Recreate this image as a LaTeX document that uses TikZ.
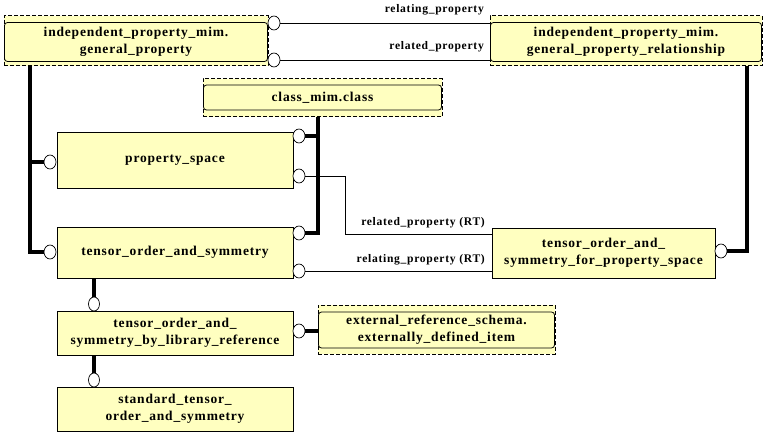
\documentclass[tikz,border=0pt]{standalone}
\usepackage{fontspec}
\setmainfont[LetterSpace=6]{Liberation Serif}
\usetikzlibrary{shapes.geometric,calc}
\definecolor{boxyellow}{RGB}{255,255,192}
\newcommand\boxfnt{\fontsize{13.5}{17}\selectfont\bfseries}
\newcommand\lblfnt{\fontsize{11.6}{13}\selectfont\bfseries}
\begin{document}
\begin{tikzpicture}[x=1pt,y=-1pt,
  entbox/.style={draw, fill=boxyellow, line width=0.8pt, inner sep=0pt, outer sep=0pt, align=center, font=\boxfnt},
  outerbox/.style={draw, fill=boxyellow, line width=0.8pt, dash pattern=on 4pt off 2pt, inner sep=0pt, outer sep=0pt},
  innerbox/.style={entbox, rounded corners=3pt},
  ring/.style={draw, fill=white, ellipse, line width=0.7pt, minimum width=12pt, minimum height=14pt, inner sep=0pt, outer sep=0pt},
  heavy/.style={line width=3.6pt},
  link/.style={line width=0.8pt},
  lbl/.style={font=\lblfnt, inner sep=0pt, anchor=east}]
\useasboundingbox (0,0) rectangle (766,439);
% mapped boxes
\node[outerbox, minimum width=264pt, minimum height=50pt] (gp) at (136,40.7) {};
\node[innerbox, minimum width=263pt, minimum height=39pt] (gpi) at (136,42) {independent\_property\_mim.\\general\_property};
\node[outerbox, minimum width=272pt, minimum height=50pt] (gpr) at (626,40.7) {};
\node[innerbox, minimum width=271pt, minimum height=39pt] (gpri) at (626,42) {independent\_property\_mim.\\general\_property\_relationship};
\node[outerbox, minimum width=239pt, minimum height=38pt] (cls) at (322.5,97.5) {};
\node[innerbox, minimum width=238pt, minimum height=25pt] (clsi) at (322.5,97.5) {class\_mim.class};
\node[outerbox, minimum width=237pt, minimum height=49pt] (ext) at (436.5,329.5) {};
\node[innerbox, minimum width=236pt, minimum height=36pt] (exti) at (436.5,330) {external\_reference\_schema.\\externally\_defined\_item};
% entities
\node[entbox, minimum width=236pt, minimum height=56pt] (ps) at (175,160) {property\_space};
\node[entbox, minimum width=236pt, minimum height=51pt] (tos) at (175,252.5) {tensor\_order\_and\_symmetry};
\node[entbox, minimum width=236pt, minimum height=44pt] (tolr) at (175,333) {tensor\_order\_and\_\\symmetry\_by\_library\_reference};
\node[entbox, minimum width=236pt, minimum height=44pt] (std) at (175,409) {standard\_tensor\_\\order\_and\_symmetry};
\node[entbox, minimum width=223pt, minimum height=50pt] (tosps) at (603.5,253) {tensor\_order\_and\_\\symmetry\_for\_property\_space};
% rings
\node[ring] (c1) at (274,23) {};
\node[ring] (c2) at (274,60) {};
\node[ring] (c3) at (50,162) {};
\node[ring] (c4) at (50,252) {};
\node[ring] (c5) at (299,136) {};
\node[ring] (c6) at (299,176) {};
\node[ring] (c7) at (299,233) {};
\node[ring] (c8) at (299,271) {};
\node[ring] (c9) at (721,251) {};
\node[ring, minimum width=11pt] (c10) at (94,304) {};
\node[ring, minimum width=11pt] (c11) at (94,380) {};
\node[ring] (c12) at (299,331) {};
% connectors
\draw[link] (c1.east) -- (c1.east -| gpr.west);
\draw[link] (c2.east) -- (c2.east -| gpr.west);
\coordinate (gpL) at ([xshift=26pt]gp.south west);
\draw[heavy] (gpL) |- (c4.west);
\draw[heavy] (gpL |- c3.west) -- (c3.west);
\coordinate (clsB) at ([xshift=115pt]cls.south west);
\draw[heavy] (clsB) |- (c7.east);
\draw[heavy] (clsB |- c5.east) -- (c5.east);
\draw[link] (c6.east) -- ++(40,0) |- ([yshift=-6pt]tosps.north west);
\draw[link] (c8.east) -- (c8.east -| tosps.west);
\draw[heavy] (c9.east) -| ([xshift=-15pt]gpr.south east);
\draw[heavy] (tos.south -| c10.north) -- (c10.north);
\draw[heavy] (tolr.south -| c11.north) -- (c11.north);
\draw[heavy] (c12.east) -- (c12.east -| ext.west);
% labels
\node[lbl] (l1) at (484,10) {relating\_property};
\node[lbl] (l2) at (484,47) {related\_property};
\node[lbl] (l3) at (485,223) {related\_property (RT)};
\node[lbl] (l4) at (485,260) {relating\_property (RT)};
\end{tikzpicture}
\end{document}
